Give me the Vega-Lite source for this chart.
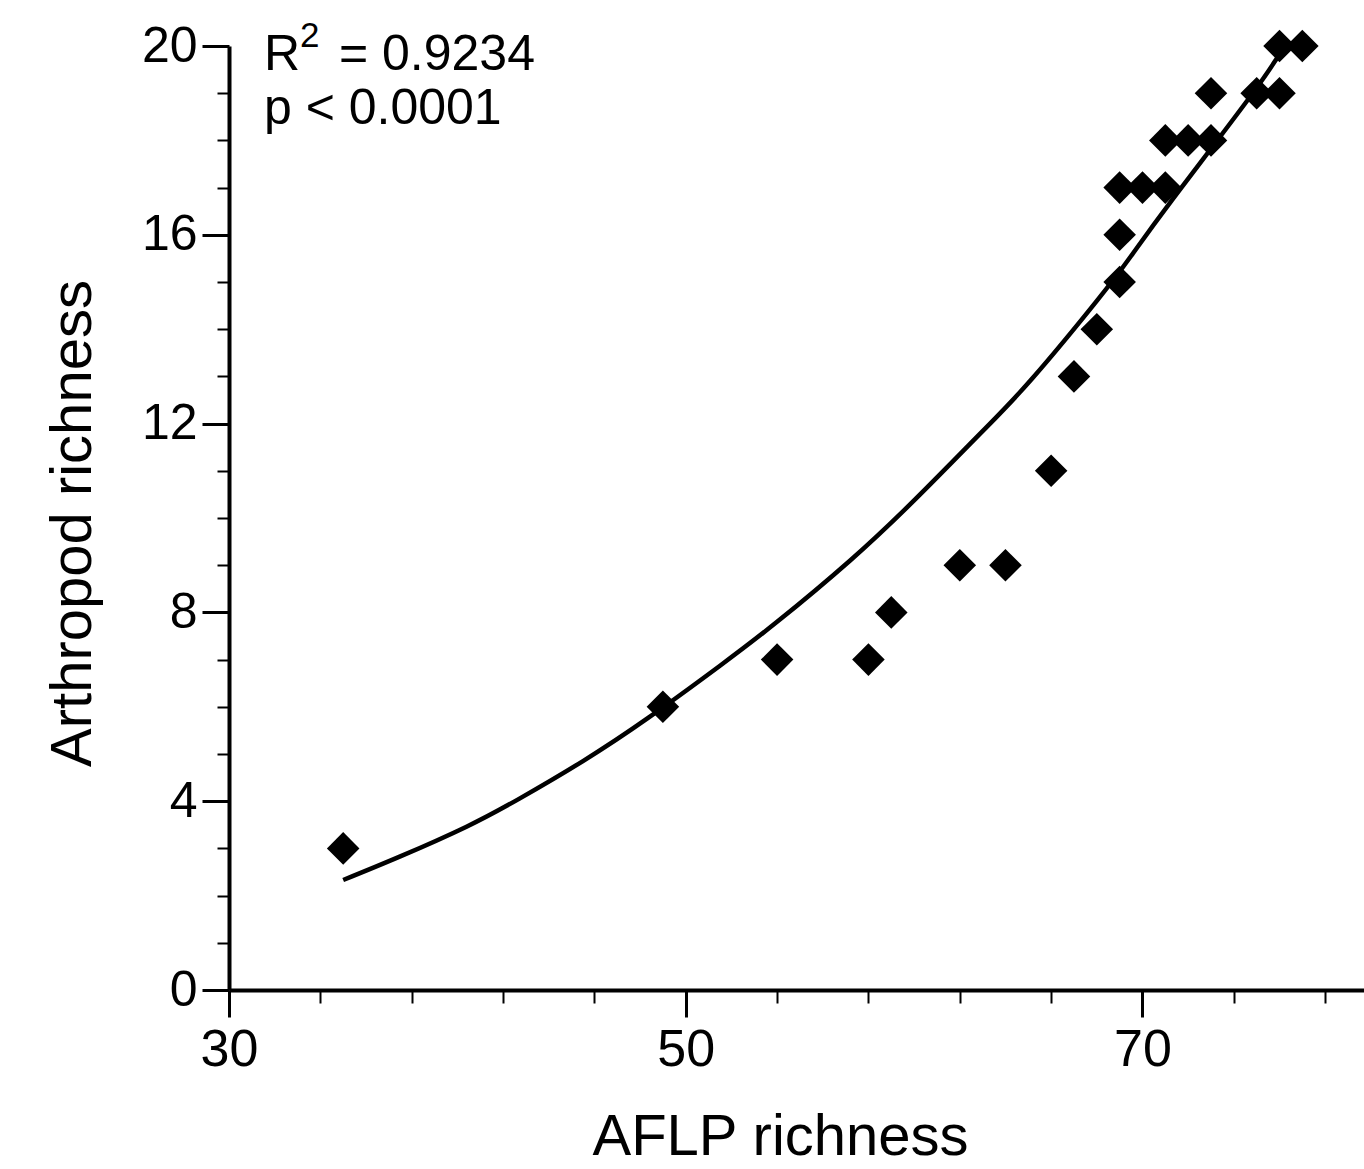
{
  "$schema": "https://vega.github.io/schema/vega-lite/v6.json",
  "width": 1135,
  "height": 944,
  "autosize": {"type": "none"},
  "padding": {"left": 229, "top": 46, "right": 0, "bottom": 179},
  "background": "white",
  "config": {
    "view": {"stroke": null},
    "font": "Liberation Sans",
    "axis": {
      "grid": false,
      "domainColor": "black",
      "tickColor": "black",
      "labelColor": "black",
      "titleColor": "black",
      "labelFont": "Liberation Sans",
      "titleFont": "Liberation Sans",
      "titleFontWeight": "normal",
      "labelFlush": false
    }
  },
  "datasets": {
    "points": [
      {"aflp": 35, "arth": 3},
      {"aflp": 49, "arth": 6},
      {"aflp": 54, "arth": 7},
      {"aflp": 58, "arth": 7},
      {"aflp": 59, "arth": 8},
      {"aflp": 62, "arth": 9},
      {"aflp": 64, "arth": 9},
      {"aflp": 66, "arth": 11},
      {"aflp": 67, "arth": 13},
      {"aflp": 68, "arth": 14},
      {"aflp": 69, "arth": 15},
      {"aflp": 69, "arth": 16},
      {"aflp": 69, "arth": 17},
      {"aflp": 70, "arth": 17},
      {"aflp": 71, "arth": 17},
      {"aflp": 71, "arth": 18},
      {"aflp": 72, "arth": 18},
      {"aflp": 73, "arth": 18},
      {"aflp": 73, "arth": 19},
      {"aflp": 75, "arth": 19},
      {"aflp": 76, "arth": 19},
      {"aflp": 76, "arth": 20},
      {"aflp": 77, "arth": 20}
    ],
    "curve": [
      {"aflp": 35, "arth": 2.33},
      {"aflp": 37.5, "arth": 2.83},
      {"aflp": 40.4, "arth": 3.46},
      {"aflp": 42.7, "arth": 4.05},
      {"aflp": 45.5, "arth": 4.85},
      {"aflp": 48.4, "arth": 5.78},
      {"aflp": 51.5, "arth": 6.87},
      {"aflp": 54, "arth": 7.8},
      {"aflp": 57.2, "arth": 9.1},
      {"aflp": 60.1, "arth": 10.42},
      {"aflp": 63, "arth": 11.84},
      {"aflp": 65.2, "arth": 12.97},
      {"aflp": 68, "arth": 14.6},
      {"aflp": 69.5, "arth": 15.55},
      {"aflp": 71.3, "arth": 16.74},
      {"aflp": 74.6, "arth": 18.85},
      {"aflp": 75.9, "arth": 19.75},
      {"aflp": 76.3, "arth": 20.0}
    ],
    "notes": [
      {"part": "R"}
    ],
    "sup": [
      {"part": "2"}
    ],
    "eq": [
      {"part": "= 0.9234"}
    ],
    "pval": [
      {"part": "p < 0.0001"}
    ]
  },
  "layer": [
    {
      "data": {"name": "curve"},
      "mark": {"type": "line", "color": "black", "strokeWidth": 4.5, "interpolate": "natural"},
      "encoding": {
        "x": {
          "field": "aflp", "type": "quantitative",
          "scale": {"domain": [30, 79.7], "nice": false, "zero": false},
          "axis": {"orient": "bottom", "values": [34, 38, 42, 46, 54, 58, 62, 66, 74, 78], "labels": false, "domain": false, "tickSize": 13, "tickWidth": 2, "title": null}
        },
        "y": {
          "field": "arth", "type": "quantitative",
          "scale": {"domain": [0, 20], "nice": false, "zero": true},
          "axis": {"orient": "left", "values": [1, 2, 3, 5, 6, 7, 9, 10, 11, 13, 14, 15, 17, 18, 19], "labels": false, "domain": false, "tickSize": 12, "tickWidth": 2, "title": null}
        }
      }
    },
    {
      "data": {"name": "points"},
      "mark": {"type": "point", "shape": "diamond", "filled": true, "color": "black", "opacity": 1, "size": 1060},
      "encoding": {
        "x": {
          "field": "aflp", "type": "quantitative",
          "axis": {
            "orient": "bottom", "values": [30, 50, 70], "domain": true, "domainWidth": 4,
            "tickSize": 27, "tickWidth": 3, "labelFontSize": 52, "labelPadding": 7,
            "title": "AFLP richness", "titleFontSize": 58, "titleX": 551, "titleY": 164,
            "titleBaseline": "alphabetic", "titleAlign": "center"
          }
        },
        "y": {
          "field": "arth", "type": "quantitative",
          "axis": {
            "orient": "left", "values": [0, 4, 8, 12, 16, 20], "domain": true, "domainWidth": 4,
            "tickSize": 27, "tickWidth": 3, "labelFontSize": 50, "labelPadding": 5,
            "title": "Arthropod richness", "titleFontSize": 58, "titleX": -139, "titleY": 477,
            "titleBaseline": "alphabetic", "titleAlign": "center", "titleAngle": 270
          }
        }
      }
    },
    {
      "data": {"name": "notes"},
      "mark": {"type": "text", "align": "left", "baseline": "alphabetic", "fontSize": 50, "color": "black", "font": "Liberation Sans"},
      "encoding": {
        "x": {"datum": 31.53, "type": "quantitative", "axis": null},
        "y": {"datum": 19.49, "type": "quantitative", "axis": null},
        "text": {"field": "part"}
      }
    },
    {
      "data": {"name": "sup"},
      "mark": {"type": "text", "align": "left", "baseline": "alphabetic", "fontSize": 35, "dx": 36, "dy": -23, "color": "black", "font": "Liberation Sans"},
      "encoding": {
        "x": {"datum": 31.53, "type": "quantitative", "axis": null},
        "y": {"datum": 19.49, "type": "quantitative", "axis": null},
        "text": {"field": "part"}
      }
    },
    {
      "data": {"name": "eq"},
      "mark": {"type": "text", "align": "left", "baseline": "alphabetic", "fontSize": 50, "dx": 75, "color": "black", "font": "Liberation Sans"},
      "encoding": {
        "x": {"datum": 31.53, "type": "quantitative", "axis": null},
        "y": {"datum": 19.49, "type": "quantitative", "axis": null},
        "text": {"field": "part"}
      }
    },
    {
      "data": {"name": "pval"},
      "mark": {"type": "text", "align": "left", "baseline": "alphabetic", "fontSize": 50, "color": "black", "font": "Liberation Sans"},
      "encoding": {
        "x": {"datum": 31.53, "type": "quantitative", "axis": null},
        "y": {"datum": 18.35, "type": "quantitative", "axis": null},
        "text": {"field": "part"}
      }
    }
  ],
  "resolve": {"axis": {"x": "independent", "y": "independent"}}
}
